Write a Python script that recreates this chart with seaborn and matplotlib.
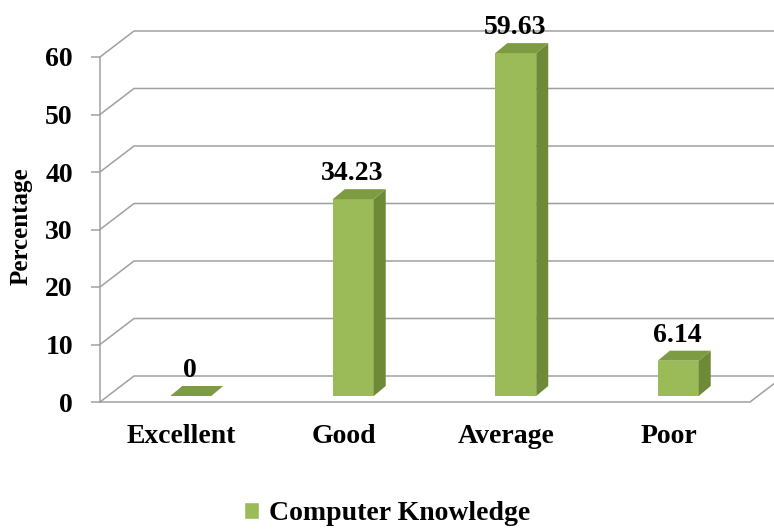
import matplotlib
matplotlib.use("Agg")
import matplotlib.pyplot as plt
import matplotlib.transforms as mtransforms
from matplotlib.patches import Polygon, Patch
import seaborn as sns
import pandas as pd

categories = ['Excellent', 'Good', 'Average', 'Poor']
values = [0, 34.23, 59.63, 6.14]
value_labels = ['0', '34.23', '59.63', '6.14']
series_name = 'Computer Knowledge'
yticks = [0, 10, 20, 30, 40, 50, 60]

front_col = '#9bbb59'
side_col = '#6e8a38'
top_col = '#7d9b41'
grid_col = '#a0a0a0'

sns.set_style('white')
plt.rcParams['font.family'] = ['Liberation Serif', 'DejaVu Serif']
plt.rcParams['font.weight'] = 'bold'
plt.rcParams['text.color'] = 'black'
plt.rcParams['axes.labelcolor'] = 'black'
plt.rcParams['xtick.color'] = 'black'
plt.rcParams['ytick.color'] = 'black'

fig = plt.figure(figsize=(7.74, 5.29), dpi=100)
ax = fig.add_axes([100 / 774, 127 / 529, 650 / 774, 345 / 529])

df = pd.DataFrame({'category': categories, 'value': values})
sns.barplot(data=df, x='category', y='value', color=front_col, saturation=1,
            width=0.252, linewidth=0, ax=ax, zorder=3)
ax.set_xlim(-0.5, 3.5)
ax.set_ylim(0, 60)
ax.set_yticks(yticks)

# px -> data units (axes geometry is fixed above)
ux = 4 / 650
uy = 60 / 345
wall_dx, wall_dy = 34 * ux, 26 * uy   # depth of the back wall
bar_dx, bar_dy = 12 * ux, 10 * uy     # depth of each bar

# back wall gridlines + floor
for v in yticks:
    ax.plot([-0.5, -0.5 + wall_dx, 3.8], [v, v + wall_dy, v + wall_dy],
            color=grid_col, lw=1.1, clip_on=False, zorder=1)
ax.plot([-0.5, 3.5, 3.5 + wall_dx], [0, 0, wall_dy],
        color=grid_col, lw=1.1, clip_on=False, zorder=1)

for s in ['top', 'right', 'bottom']:
    ax.spines[s].set_visible(False)
ax.spines['left'].set_color(grid_col)
ax.spines['left'].set_linewidth(1.1)

# bars sit a little behind the front edge
shift = mtransforms.ScaledTranslation(9.5 / 100, 6 / 100, fig.dpi_scale_trans)
bar_tr = ax.transData + shift

for p, lab in zip(ax.patches, value_labels):
    p.set_transform(bar_tr)
    p.set_clip_on(False)
    x0, w, h = p.get_x(), p.get_width(), p.get_height()
    side = [(x0 + w, 0), (x0 + w, h), (x0 + w + bar_dx, h + bar_dy), (x0 + w + bar_dx, bar_dy)]
    top = [(x0, h), (x0 + w, h), (x0 + w + bar_dx, h + bar_dy), (x0 + bar_dx, h + bar_dy)]
    ax.add_patch(Polygon(side, closed=True, facecolor=side_col, edgecolor='none',
                         transform=bar_tr, zorder=3, clip_on=False))
    ax.add_patch(Polygon(top, closed=True, facecolor=top_col, edgecolor='none',
                         transform=bar_tr, zorder=3, clip_on=False))
    ax.annotate(lab, xy=(x0 + w / 2, h), xytext=(6, 18), textcoords='offset points',
                ha='center', va='baseline', fontsize=20, fontweight='bold',
                annotation_clip=False)

ax.tick_params(axis='x', length=0, pad=16, labelsize=20)
ax.tick_params(axis='y', length=6.5, width=1.1, color=grid_col, labelcolor='black',
               pad=13, labelsize=20, left=True)
ax.set_xlabel('')
ax.set_ylabel('Percentage', fontsize=18, fontweight='bold')
ax.yaxis.set_label_coords(-0.103, 176 / 345)

fig.legend(handles=[Patch(facecolor=front_col, label=series_name)], loc='center',
           bbox_to_anchor=(0.5, 15 / 529), frameon=False, fontsize=20,
           handlelength=0.55, handleheight=0.55, handletextpad=0.35)

fig.savefig('out.png', dpi=100)
